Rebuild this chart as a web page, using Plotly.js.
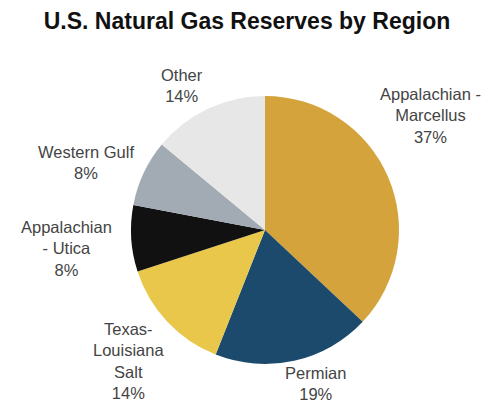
<!DOCTYPE html>
<html><head><meta charset="utf-8">
<script src="https://cdn.plot.ly/plotly-3.0.1.min.js"></script>
<style>html,body{margin:0;padding:0;background:#fff;}#chart{width:494px;height:407px;}</style>
</head><body><div id="chart"></div>
<script>
const regions = ["Appalachian - Marcellus", "Permian", "Texas-Louisiana Salt", "Appalachian - Utica", "Western Gulf", "Other"];
const labelLines = ["Appalachian -<br>Marcellus", "Permian", "Texas-<br>Louisiana<br>Salt", "Appalachian<br>- Utica", "Western Gulf", "Other"];
const shares = [37, 19, 14, 8, 8, 14];
const colors = ["#D4A33C", "#1C4A6C", "#E8C74B", "#111111", "#A2AAB4", "#E7E7E7"];

// label anchor positions (paper coords, px from top-left)
const labelPos = [[430,115],[315,383],[128,361],[66,248],[86,163],[182,85]];
const W = 494, H = 407;

const annotations = regions.map((r, i) => ({
  text: labelLines[i] + "<br>" + shares[i] + "%",
  x: labelPos[i][0] / W, y: 1 - labelPos[i][1] / H,
  xref: "paper", yref: "paper", xanchor: "center", yanchor: "middle",
  showarrow: false, align: "center",
  font: {family: "Liberation Sans, Arial, sans-serif", size: 16.5, color: "#444444"}
}));

const cx = 265, cy = 230, r = 134;
const data = [{
  type: "pie",
  labels: regions,
  values: shares,
  sort: false,
  direction: "clockwise",
  rotation: 0,
  marker: {colors: colors, line: {width: 0}},
  textinfo: "none",
  hoverinfo: "label+percent",
  domain: {x: [(cx - r) / W, (cx + r) / W], y: [(H - cy - r) / H, (H - cy + r) / H]}
}];

const layout = {
  width: W, height: H,
  margin: {l: 0, r: 0, t: 0, b: 0},
  paper_bgcolor: "#ffffff",
  showlegend: false,
  title: {text: "<b>U.S. Natural Gas Reserves by Region</b>", x: 0.5, xanchor: "center", y: 1 - 21 / H, yanchor: "middle",
    font: {family: "Liberation Sans, Arial, sans-serif", size: 23, color: "#111111"}},
  annotations: annotations
};
Plotly.newPlot("chart", data, layout, {staticPlot: true});
</script></body></html>
